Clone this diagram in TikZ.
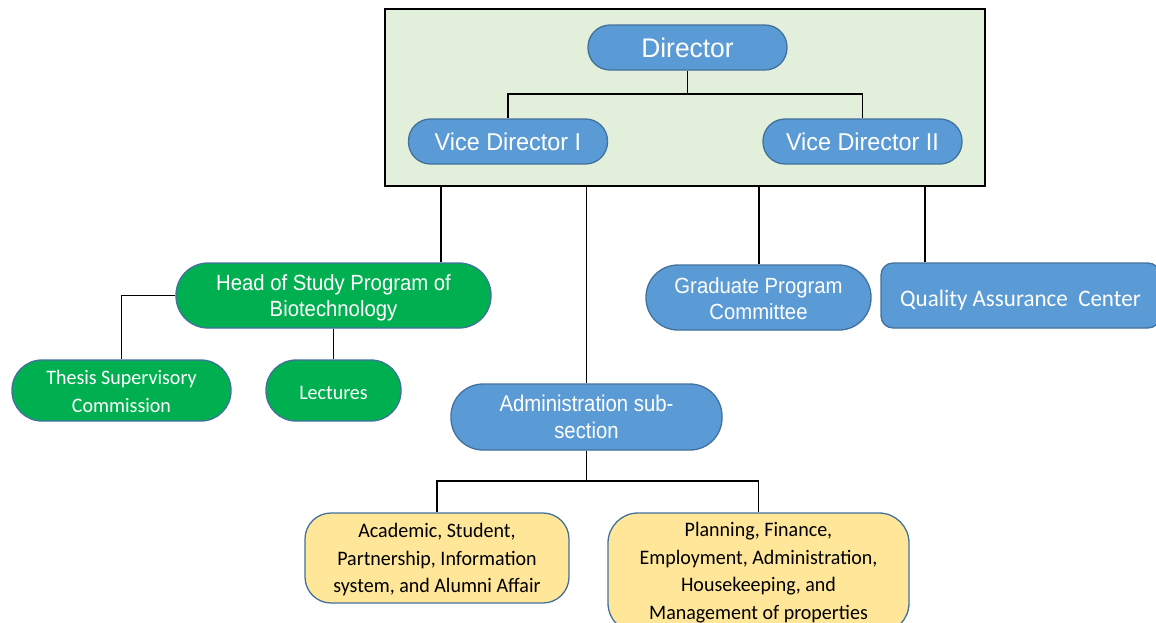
\documentclass[tikz,border=0pt]{standalone}
\usepackage{fontspec}
\usepackage{graphicx}
\setmainfont{Liberation Sans}
\newfontfamily\calib{Carlito}
\definecolor{unitblue}{HTML}{5B9BD5}
\definecolor{unitedge}{HTML}{41719C}
\definecolor{unitgreen}{HTML}{00B050}
\definecolor{unityellow}{HTML}{FFE699}
\definecolor{boardfill}{HTML}{E2EFDA}
% \unittext[lowering][vertical stretch]{lines}: centred lines, set slightly lower and taller
\newcommand\unittext[3][0]{\raisebox{0pt}[\dimexpr\height+#1pt*2\relax][\depth]{\scalebox{1}[#2]{\begin{tabular}{@{}c@{}}#3\end{tabular}}}}
\tikzset{
  unit/.style={draw=unitedge, line width=1.3pt, text=white, align=center, inner sep=0pt},
  bluepill/.style={unit, fill=unitblue},
  greenpill/.style={unit, fill=unitgreen},
  yellowbox/.style={unit, fill=unityellow, text=black},
  link/.style={draw=black, line width=1.4pt},
  arialbig/.style={font=\fontsize{26.4}{30}\selectfont},
  arialmid/.style={font=\fontsize{23.4}{27}\selectfont},
  arialsmall/.style={font=\fontsize{20.3}{24}\selectfont},
  calsmall/.style={font=\calib\fontsize{20}{27}\selectfont},
}
\begin{document}
\begin{tikzpicture}[x=1pt,y=-1pt]
\useasboundingbox (0,0) rectangle (1156,622);
\clip (0,0) rectangle (1156,622);

% board of directors
\node[draw=black, line width=1.5pt, fill=boardfill, minimum width=600pt, minimum height=177pt, inner sep=0pt] (board) at (685,97.5) {};

\node[bluepill, arialbig, minimum width=199pt, minimum height=45pt, rounded corners=22pt] (dir) at (687.5,47.5) {\unittext[4]{1.02}{Director}};
\node[bluepill, arialmid, minimum width=199pt, minimum height=45pt, rounded corners=22pt] (vdone) at (508,141.5) {\unittext[3]{1.04}{Vice Director I}};
\node[bluepill, arialmid, minimum width=199pt, minimum height=45pt, rounded corners=22pt] (vdtwo) at (862.5,141.5) {\unittext[3]{1.04}{Vice Director II}};

% units below the board
\node[greenpill, arialsmall, minimum width=315pt, minimum height=65pt, rounded corners=32pt] (hos) at (333.5,295.5) {\unittext[3]{1.08}{Head of Study Program of\\Biotechnology}};
\node[greenpill, calsmall, minimum width=219pt, minimum height=61pt, rounded corners=30pt] (tsc) at (121.5,390.5) {\unittext[2.5]{1.03}{Thesis Supervisory\\Commission}};
\node[greenpill, calsmall, minimum width=135pt, minimum height=61pt, rounded corners=30pt] (lec) at (333.5,390.5) {\unittext[3]{1.03}{Lectures}};

\node[bluepill, arialsmall, minimum width=225pt, minimum height=65pt, rounded corners=32pt] (gpc) at (758.5,297.5) {\unittext[4]{1.08}{Graduate Program\\Committee}};
\node[bluepill, font=\calib\fontsize{23}{27}\selectfont, minimum width=279pt, minimum height=65pt, rounded corners=12pt] (qac) at (1020.5,295.5) {\unittext[5.5]{1.03}{Quality Assurance\ \ Center}};

\node[bluepill, arialsmall, minimum width=271pt, minimum height=66pt, rounded corners=32pt] (adm) at (586.5,417) {\unittext[3]{1.12}{Administration sub-\\section}};

\node[yellowbox, calsmall, minimum width=264pt, minimum height=90pt, rounded corners=26pt] (acad) at (437,558) {\unittext[1.5]{1.03}{Academic, Student,\\Partnership, Information\\system, and Alumni Affair}};
\node[yellowbox, calsmall, minimum width=301pt, minimum height=120pt, rounded corners=30pt] (plan) at (758.5,573) {\unittext[-0.5]{1.03}{Planning, Finance,\\Employment, Administration,\\Housekeeping, and\\Management of properties}};

% connectors
\coordinate (jdir) at (687.5,94);
\draw[link] (dir.south) -- (jdir) -| (vdone.north);
\draw[link] (jdir) -| (vdtwo.north);

\coordinate (xhos) at (441,0);
\coordinate (xgpc) at (759,0);
\coordinate (xqac) at (925,0);
\draw[link] (board.south -| xhos) -- (hos.north -| xhos);
\draw[link] (board.south -| adm.north) -- (adm.north);
\draw[link] (board.south -| xgpc) -- (gpc.north -| xgpc);
\draw[link] (board.south -| xqac) -- (qac.north -| xqac);

\draw[link] (hos.west) -| (tsc.north);
\draw[link] (hos.south) -- (lec.north);

\coordinate (jadm) at (586.5,481);
\draw[link] (adm.south) -- (jadm) -| (acad.north);
\draw[link] (jadm) -| (plan.north);
\end{tikzpicture}
\end{document}
